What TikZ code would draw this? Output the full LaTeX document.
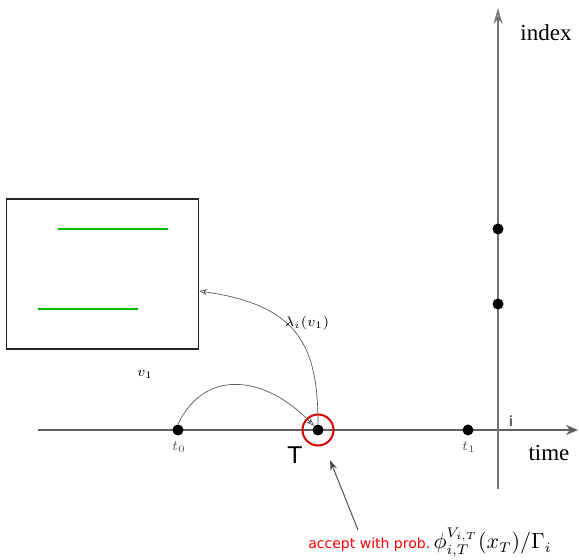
\documentclass[tikz,border=0pt]{standalone}
\usepackage{amsmath,amssymb}
\usepackage{fontspec}
\setmainfont{Liberation Serif}
\newfontfamily\dejavu{DejaVu Sans}
\usetikzlibrary{arrows.meta,positioning}

\begin{document}
\begin{tikzpicture}[x=0.5pt, y=-0.5pt,
  axis/.style={draw=gray!75!black, line width=0.8pt},
  dot/.style={circle, fill=black, inner sep=0pt, minimum size=5.5pt},
  curve/.style={draw=gray!70!black, line width=0.35pt, -{Stealth[open, length=4pt, width=3pt]}},
  pointer/.style={draw=gray!60!black, line width=0.5pt, -{Stealth[length=5pt, width=3.5pt]}},
  tlab/.style={font=\fontsize{7.5}{9}\selectfont, text=gray!70!black},
  axlab/.style={font=\fontsize{11.5}{13}\selectfont}]
  \useasboundingbox (0,0) rectangle (579,560);
  % axes
  \coordinate (tstart) at (38,430);
  \coordinate (tend) at (578,430);
  \coordinate (ibot) at (498,489);
  \coordinate (itop) at (498,8);
  \draw[axis, -{Stealth[length=6pt, width=5pt]}] (tstart) -- (tend);
  \draw[axis, draw=gray!90!black, -{Stealth[open, length=8pt, width=4.5pt]}] (ibot) -- (itop);
  \node[axlab] (index) at (546,33) {index};
  \node[axlab] (time) at (549,453) {time};
  \node[font=\dejavu\fontsize{7}{8}\selectfont] (ilab) at (511,421) {i};
  % points on the time axis
  \node[dot] (t0) at (178,430) {};
  \node[dot] (T) at (318,430) {};
  \node[dot] (t1) at (468,430) {};
  \node[tlab] (t0lab) at (179,447) {$t_0$};
  \node[tlab] (t1lab) at (469,447) {$t_1$};
  \node[font=\dejavu\fontsize{11.5}{13}\selectfont] (Tlab) at (295,455) {T};
  \node[circle, draw=red!85!black, line width=1pt, minimum size=15.5pt] (ring) at (318,430) {};
  % points on the index axis
  \node[dot] (i1) at (498,229) {};
  \node[dot] (i2) at (498,304) {};
  % state box
  \node[draw=gray!30!black, line width=0.7pt, minimum width=96pt, minimum height=75pt] (box) at (102.5,274) {};
  \draw[green!75!black, line width=0.8pt] (58,229) -- (168,229);
  \draw[green!75!black, line width=0.8pt] (38,309) -- (138,309);
  \node[font=\fontsize{7}{8}\selectfont] (v1) at (145,374) {$v_1$};
  % curved arrows
  \draw[curve] (t0.north) .. controls (205,368) and (265,375) .. (T.north west);
  \draw[curve] (T.north) .. controls (318,345) and (298,305) .. (box.-10);
  \node[font=\fontsize{7.5}{9}\selectfont] (lam) at (307,323) {$\lambda_i(v_1)$};
  % acceptance
  \node[anchor=base west, inner sep=0pt] (acc) at (308,549) {\textcolor{red}{\dejavu\fontsize{7}{8}\selectfont accept with prob.}\,\fontsize{10.5}{12}\selectfont$\phi_{i,T}^{V_{i,T}}(x_T)/\Gamma_i$};
  \coordinate (accpt) at (358,530);
  \draw[pointer, shorten >=8pt] (accpt) -- (ring);
\end{tikzpicture}
\end{document}
